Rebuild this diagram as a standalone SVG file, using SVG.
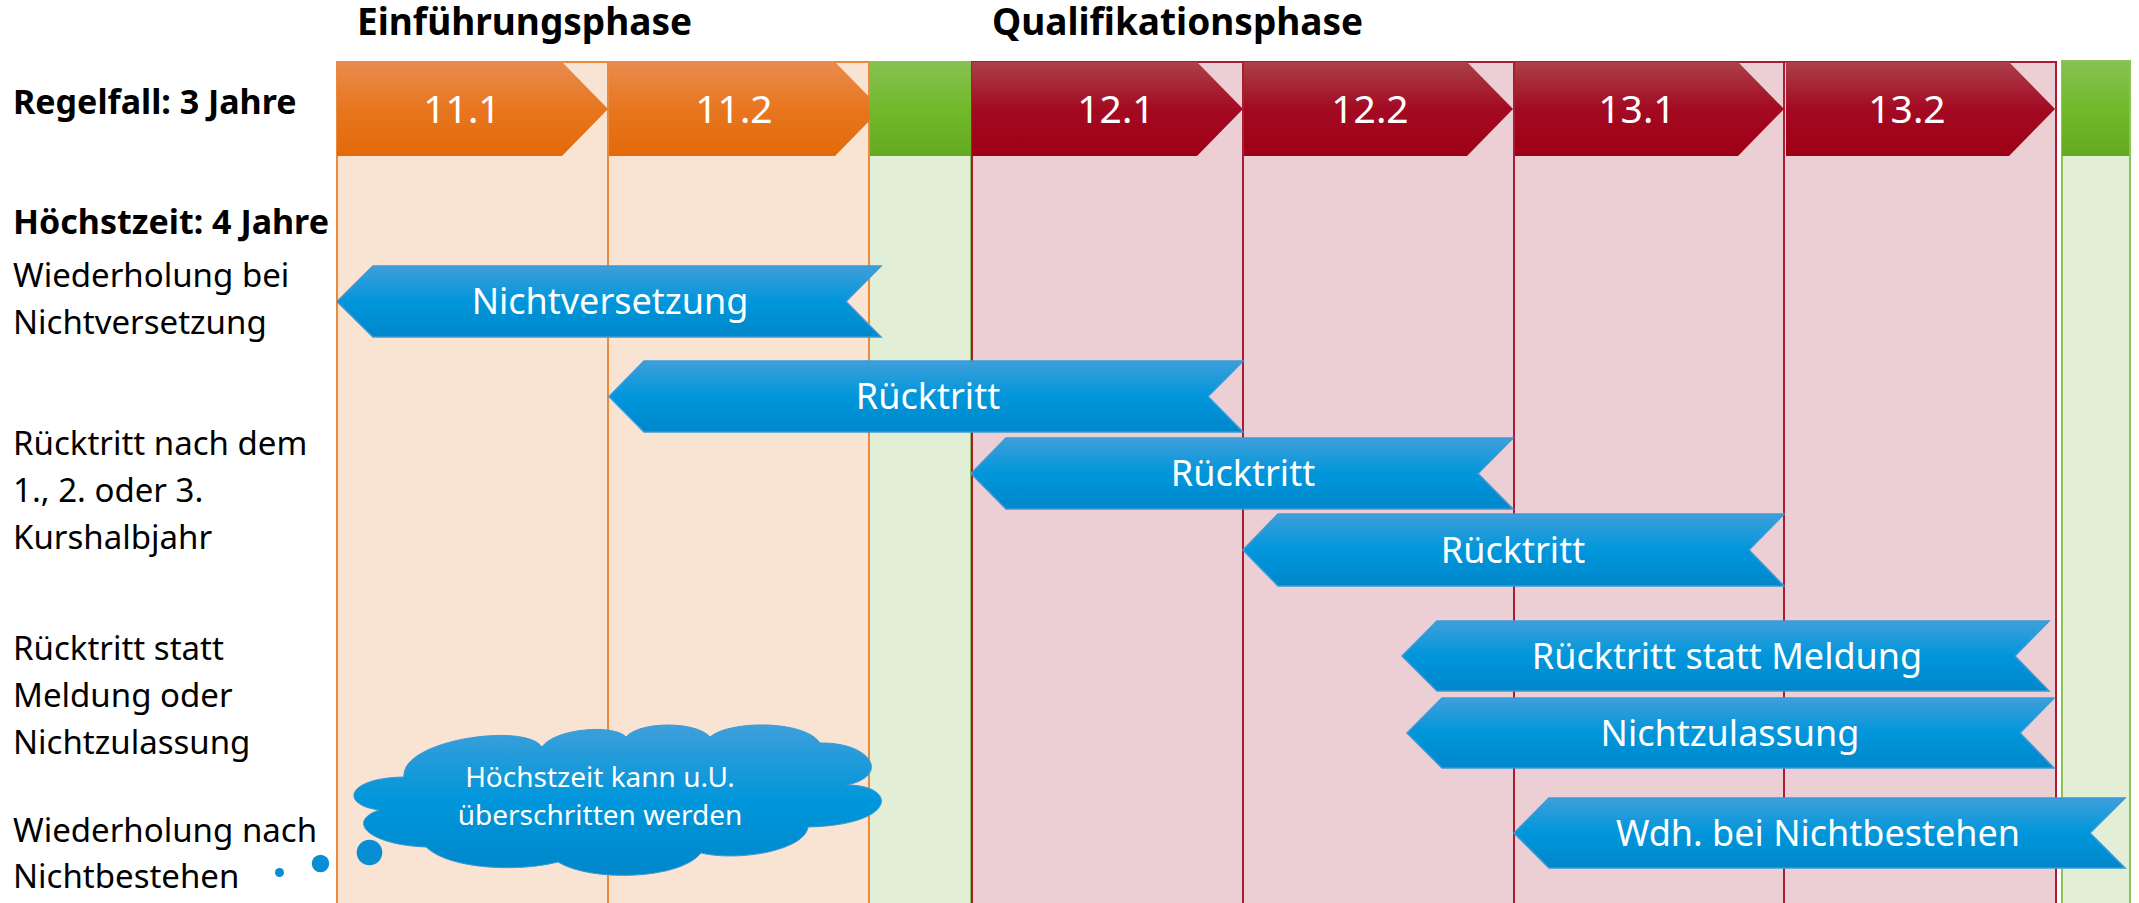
<svg xmlns="http://www.w3.org/2000/svg" width="2139" height="903" viewBox="0 0 2139 903">
<defs>
<linearGradient id="gOr" x1="0" y1="0" x2="0" y2="1"><stop offset="0" stop-color="#E98B4E"/><stop offset="0.5" stop-color="#E8761F"/><stop offset="1" stop-color="#E36A08"/></linearGradient>
<linearGradient id="gRd" x1="0" y1="0" x2="0" y2="1"><stop offset="0" stop-color="#AB4049"/><stop offset="0.5" stop-color="#A30A22"/><stop offset="1" stop-color="#9E0015"/></linearGradient>
<linearGradient id="gGr" x1="0" y1="0" x2="0" y2="1"><stop offset="0" stop-color="#86C152"/><stop offset="0.5" stop-color="#72B92C"/><stop offset="1" stop-color="#64AA1F"/></linearGradient>
<linearGradient id="gBl" x1="0" y1="0" x2="0" y2="1"><stop offset="0" stop-color="#3F9FDA"/><stop offset="0.5" stop-color="#0096DB"/><stop offset="1" stop-color="#0087CA"/></linearGradient>
<style>
.bgO{fill:#F9E4D3;stroke:#E98A3E;stroke-width:2}
.bgG{fill:#E2EFD6;stroke:#8DC25A;stroke-width:2}
.bgR{fill:#EBCFD4;stroke:#A81D32;stroke-width:2}
.dO{stroke:#E98A3E;stroke-width:2}
.dR{stroke:#A81D32;stroke-width:2}
.chO{fill:url(#gOr)}
.chR{fill:url(#gRd)}
.chG{fill:url(#gGr)}
.arr{fill:url(#gBl);stroke:#3A9AD8;stroke-width:1.5}
.cl{fill:url(#gBl);stroke:#3A9AD8;stroke-width:1}
.dot{fill:#0A8ED3}
text{font-family:"Noto Sans","Open Sans","DejaVu Sans",sans-serif}
.tc{fill:#fff;font-size:39px;text-anchor:middle}
.ta{fill:#fff;font-size:36px;text-anchor:middle}
.tcl{fill:#fff;font-size:28px;text-anchor:middle}
.hd{font-size:37px;font-weight:bold;fill:#000}
.lb{font-size:34px;font-weight:bold;fill:#000}
.lr{font-size:33px;fill:#000}
</style>
</defs>
<rect width="2139" height="903" fill="#fff"/>
<g id="backgrounds">
<rect class="bgG" x="869" y="62" width="102" height="860"/>
<rect class="bgO" x="337" y="62" width="532" height="860"/>
<rect class="bgR" x="972" y="62" width="1084" height="860"/>
<rect class="bgG" x="2062" y="61" width="68" height="860"/>
<line class="dO" x1="608" y1="62" x2="608" y2="903"/>
<line class="dR" x1="1243" y1="62" x2="1243" y2="903"/>
<line class="dR" x1="1514" y1="62" x2="1514" y2="903"/>
<line class="dR" x1="1784" y1="62" x2="1784" y2="903"/>
</g>
<g id="headers">
<text class="hd" x="357" y="35">Einführungsphase</text>
<text class="hd" x="992" y="35">Qualifikationsphase</text>
</g>
<g id="row-labels">
<text class="lb" x="13" y="114">Regelfall: 3 Jahre</text>
<text class="lb" x="13" y="234">Höchstzeit: 4 Jahre</text>
<text class="lr" x="13" y="287">Wiederholung bei</text>
<text class="lr" x="13" y="334">Nichtversetzung</text>
<text class="lr" x="13" y="455">Rücktritt nach dem</text>
<text class="lr" x="13" y="502">1., 2. oder 3.</text>
<text class="lr" x="13" y="549">Kurshalbjahr</text>
<text class="lr" x="13" y="660">Rücktritt statt</text>
<text class="lr" x="13" y="707">Meldung oder</text>
<text class="lr" x="13" y="754">Nichtzulassung</text>
<text class="lr" x="13" y="842">Wiederholung nach</text>
<text class="lr" x="13" y="888">Nichtbestehen</text>
</g>
<g id="sem-11-1"><polygon class="chO" points="337,62 562,62 608,109 562,156 337,156"/><text class="tc" x="462" y="123">11.1</text></g>
<g id="sem-11-2"><polygon class="chO" points="609,62 835,62 881,109 835,156 609,156"/><text class="tc" x="734" y="123">11.2</text></g>
<g id="gap-1"><rect class="chG" x="870" y="62" width="101" height="94"/></g>
<g id="sem-12-1"><polygon class="chR" points="972,62 1197,62 1243,109 1197,156 972,156"/><text class="tc" x="1116" y="123">12.1</text></g>
<g id="sem-12-2"><polygon class="chR" points="1244,62 1467,62 1513,109 1467,156 1244,156"/><text class="tc" x="1370" y="123">12.2</text></g>
<g id="sem-13-1"><polygon class="chR" points="1515,62 1738,62 1784,109 1738,156 1515,156"/><text class="tc" x="1637" y="123">13.1</text></g>
<g id="sem-13-2"><polygon class="chR" points="1786,62 2009,62 2055,109 2009,156 1786,156"/><text class="tc" x="1907" y="123">13.2</text></g>
<g id="gap-2"><rect class="chG" x="2062" y="62" width="67" height="94"/></g>
<g id="arrow-nichtversetzung"><polygon class="arr" points="337,301.5 373,266 881,266 846,301.5 881,337 373,337"/><text class="ta" x="610" y="314">Nichtversetzung</text></g>
<g id="arrow-ruecktritt-1"><polygon class="arr" points="609,396.5 644,361 1243,361 1208,396.5 1243,432 644,432"/><text class="ta" x="928" y="409">Rücktritt</text></g>
<g id="arrow-ruecktritt-2"><polygon class="arr" points="971,473.5 1006,438 1513,438 1478,473.5 1513,509 1006,509"/><text class="ta" x="1243" y="486">Rücktritt</text></g>
<g id="arrow-ruecktritt-3"><polygon class="arr" points="1243,550 1278,514 1784,514 1749,550 1784,586 1278,586"/><text class="ta" x="1513" y="563">Rücktritt</text></g>
<g id="arrow-ruecktritt-meldung"><polygon class="arr" points="1402,656 1437,621 2049,621 2015,656 2049,691 1437,691"/><text class="ta" x="1727" y="669">Rücktritt statt Meldung</text></g>
<g id="arrow-nichtzulassung"><polygon class="arr" points="1407,733 1442,698 2054,698 2020,733 2054,768 1442,768"/><text class="ta" x="1730" y="746">Nichtzulassung</text></g>
<g id="arrow-wdh"><polygon class="arr" points="1514,833 1549,798 2125,798 2090,833 2125,868 1549,868"/><text class="ta" x="1818" y="846">Wdh. bei Nichtbestehen</text></g>
<g id="cloud">
<path class="cl" d="M404,777 C400,740 525,722 542,747 C555,728 615,724 626,737 C640,721 696,721 710,737 C730,720 805,720 820,743 C870,742 892,775 847,785 C898,785 898,825 808,827 C805,850 740,862 701,853 C680,880 590,882 558,862 C520,872 450,870 426,847 C370,845 345,822 379,810 C340,805 345,778 404,777 Z"/>
<circle class="dot" cx="369.5" cy="852.5" r="12.8"/>
<circle class="dot" cx="320.5" cy="863.5" r="8.7"/>
<circle class="dot" cx="279.5" cy="872.5" r="4.5"/>
<text class="tcl" x="600" y="787">Höchstzeit kann u.U.</text>
<text class="tcl" x="600" y="825">überschritten werden</text>
</g>
<g id="connectors"/>
</svg>
